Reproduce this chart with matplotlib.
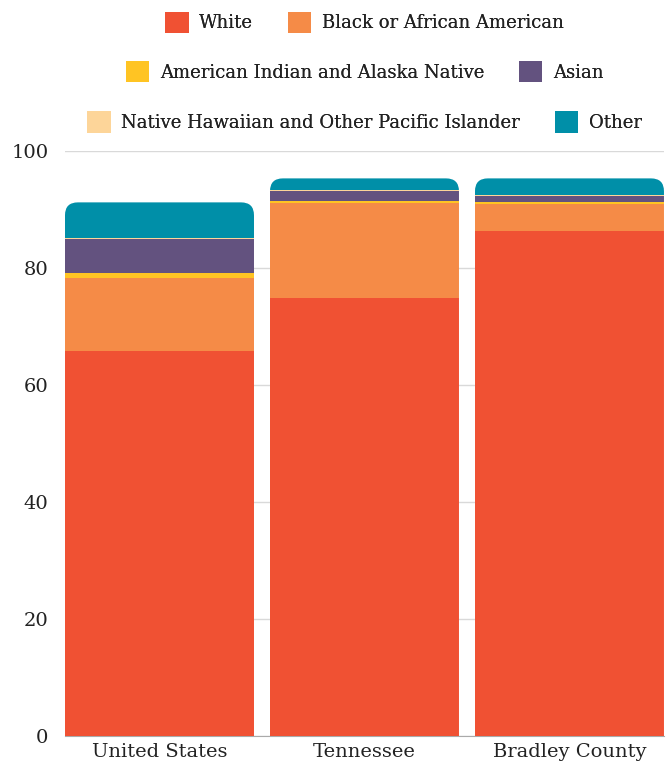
import matplotlib.pyplot as plt
from matplotlib.patches import FancyBboxPatch, Patch
import numpy as np

# Data (percent of population)
places = ['United States', 'Tennessee', 'Bradley County']
races = ['White', 'Black or African American', 'American Indian and Alaska Native',
         'Asian', 'Native Hawaiian and Other Pacific Islander', 'Other']
white = [65.8, 74.8, 86.3]
black = [12.5, 16.3, 4.7]
aian = [0.8, 0.3, 0.3]
asian = [5.8, 1.8, 1.0]
nhpi = [0.2, 0.1, 0.1]
other = [6.1, 2.0, 2.9]
colors = ['#F05133', '#F58B47', '#FFC423', '#63527F', '#FDD599', '#008FA8']

plt.rcParams['font.family'] = ['DejaVu Serif']
plt.rcParams['text.color'] = '#222222'
plt.rcParams['xtick.color'] = '#222222'
plt.rcParams['ytick.color'] = '#222222'

fig = plt.figure(figsize=(6.7, 7.71), dpi=100)
ax = fig.add_axes([0.097, 0.0454, 0.894, 0.7589])

width = 0.922
x = np.arange(len(places))
series = [white, black, aian, asian, nhpi, other]
bottom = np.zeros(len(places))
totals = np.sum(series, axis=0)

# rounded tops: clip each stack with a rounded box
rx, ry = 0.063, 2.2
clips = []
for i in range(len(places)):
    cp = FancyBboxPatch((x[i] - width / 2, -ry * 2), width, totals[i] + ry * 2,
                        boxstyle=f"round,pad=0,rounding_size={rx}",
                        mutation_aspect=ry / rx, transform=ax.transData)
    clips.append(cp)

for vals, col, name in zip(series, colors, races):
    bars = ax.bar(x, vals, width, bottom=bottom, color=col, label=name, zorder=3)
    for b, cp in zip(bars, clips):
        b.set_clip_path(cp)
    bottom += np.array(vals)

ax.set_xlim(-width / 2, 2 + width / 2)
ax.set_ylim(0, 100)
ax.set_yticks([0, 20, 40, 60, 80, 100])
ax.set_xticks(x)
ax.set_xticklabels(places)
ax.tick_params(axis='y', length=0, pad=12, labelsize=14)
ax.tick_params(axis='x', length=0, pad=5, labelsize=14)
ax.grid(axis='y', color='#d9d9d9', linewidth=1, zorder=0)
for s in ['top', 'right', 'left']:
    ax.spines[s].set_visible(False)
ax.spines['bottom'].set_color('#aaaaaa')

# legend: three centered rows
handles = [Patch(facecolor=c) for c in colors]
rows = [(0, 1), (2, 3), (4, 5)]
ys = [0.971, 0.907, 0.842]
cx = (0.097 + 0.991) / 2
for (a, b), yy in zip(rows, ys):
    leg = fig.legend([handles[a], handles[b]], [races[a], races[b]], ncol=2,
                     loc='center', bbox_to_anchor=(cx, yy), frameon=False,
                     fontsize=13, handlelength=1.3, handleheight=1.45,
                     handletextpad=0.6, columnspacing=1.9, borderpad=0)
    fig.add_artist(leg)

fig.savefig('out.png', dpi=100)
